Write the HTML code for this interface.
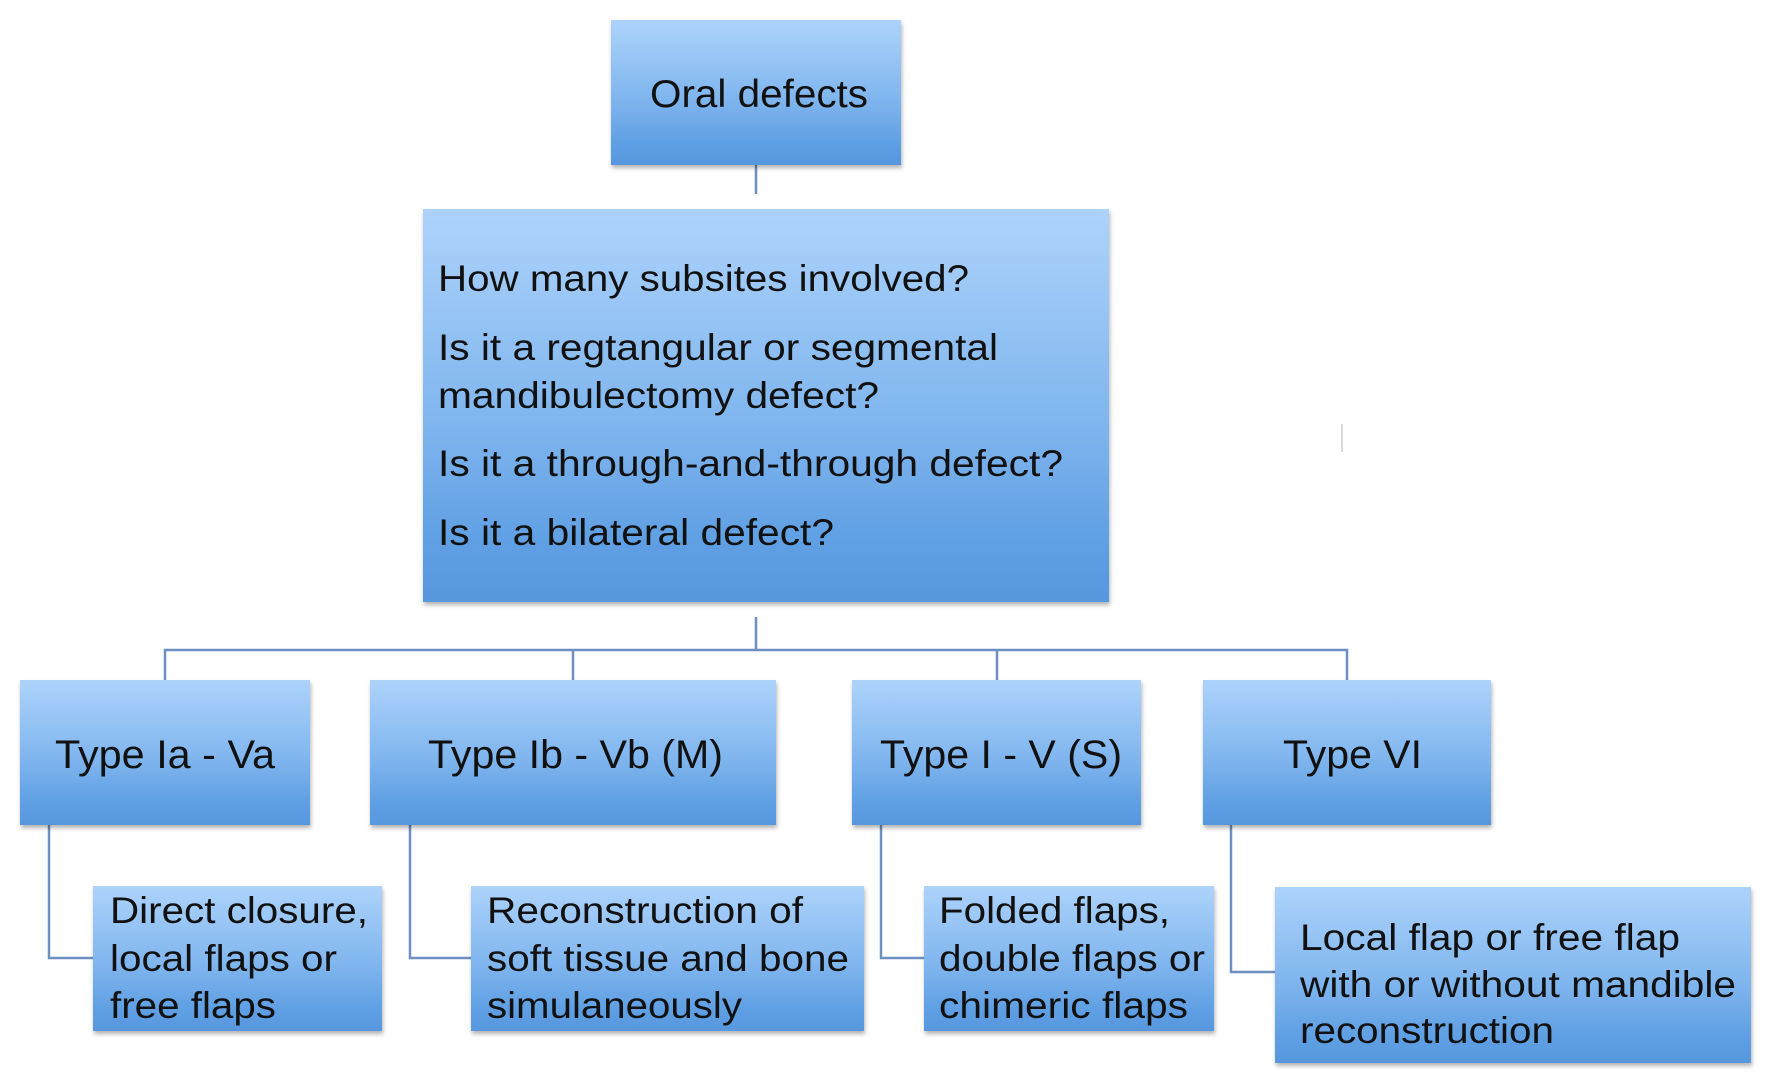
<!DOCTYPE html>
<html><head><meta charset="utf-8"><style>
html,body{margin:0;padding:0;background:#fff;width:1772px;height:1085px;overflow:hidden}
text{font-family:"Liberation Sans",Arial,sans-serif;fill:#111}
</style></head><body>
<svg width="1772" height="1085" viewBox="0 0 1772 1085" xmlns="http://www.w3.org/2000/svg">
<defs>
<linearGradient id="g" x1="0" y1="0" x2="0" y2="1">
<stop offset="0" stop-color="#add3fb"/>
<stop offset="0.55" stop-color="#7fb5ee"/>
<stop offset="0.85" stop-color="#5f9fe3"/>
<stop offset="1" stop-color="#5797de"/>
</linearGradient>
<filter id="sh" x="-5%" y="-5%" width="110%" height="115%">
<feDropShadow dx="1" dy="3" stdDeviation="2" flood-color="#000" flood-opacity="0.3"/>
</filter>
</defs>
<g stroke="#6e8fc2" stroke-width="2.5" fill="none">
<line x1="756" y1="165" x2="756" y2="194"/>
<line x1="756" y1="617" x2="756" y2="650"/>
<polyline points="165,680 165,650 1347,650 1347,680"/>
<line x1="573" y1="650" x2="573" y2="680"/>
<line x1="997" y1="650" x2="997" y2="680"/>
<polyline points="49,825 49,958 93,958"/>
<polyline points="410,825 410,958 471,958"/>
<polyline points="881,825 881,958 924,958"/>
<polyline points="1231,825 1231,972 1275,972"/>
</g>
<line x1="1342" y1="424" x2="1342" y2="452" stroke="#ccc" stroke-width="1.5"/>
<g fill="url(#g)" filter="url(#sh)">
<rect x="611" y="20" width="290" height="145"/>
<rect x="423" y="209" width="686" height="393"/>
<rect x="20" y="680" width="290" height="145"/>
<rect x="370" y="680" width="406" height="145"/>
<rect x="852" y="680" width="289" height="145"/>
<rect x="1203" y="680" width="288" height="145"/>
<rect x="93" y="886" width="289" height="145"/>
<rect x="471" y="886" width="393" height="145"/>
<rect x="924" y="886" width="290" height="145"/>
<rect x="1275" y="887" width="476" height="176"/>
</g>
<g font-size="39">
<text x="650" y="107" textLength="218" lengthAdjust="spacingAndGlyphs">Oral defects</text>
</g>
<g font-size="37">
<text x="438" y="291" textLength="531" lengthAdjust="spacingAndGlyphs">How many subsites involved?</text>
<text x="438" y="360" textLength="560" lengthAdjust="spacingAndGlyphs">Is it a regtangular or segmental</text>
<text x="438" y="408" textLength="441" lengthAdjust="spacingAndGlyphs">mandibulectomy defect?</text>
<text x="438" y="476" textLength="625" lengthAdjust="spacingAndGlyphs">Is it a through-and-through defect?</text>
<text x="438" y="545" textLength="396" lengthAdjust="spacingAndGlyphs">Is it a bilateral defect?</text>
</g>
<g font-size="40">
<text x="55" y="768" textLength="220" lengthAdjust="spacingAndGlyphs">Type Ia - Va</text>
<text x="428" y="768" textLength="295" lengthAdjust="spacingAndGlyphs">Type Ib - Vb (M)</text>
<text x="880" y="768" textLength="242" lengthAdjust="spacingAndGlyphs">Type I - V (S)</text>
<text x="1283" y="768" textLength="139" lengthAdjust="spacingAndGlyphs">Type VI</text>
</g>
<g font-size="37">
<text x="110" y="923" textLength="258" lengthAdjust="spacingAndGlyphs">Direct closure,</text>
<text x="110" y="971" textLength="227" lengthAdjust="spacingAndGlyphs">local flaps or</text>
<text x="110" y="1018" textLength="166" lengthAdjust="spacingAndGlyphs">free flaps</text>
<text x="487" y="923" textLength="316" lengthAdjust="spacingAndGlyphs">Reconstruction of</text>
<text x="487" y="971" textLength="362" lengthAdjust="spacingAndGlyphs">soft tissue and bone</text>
<text x="487" y="1018" textLength="255" lengthAdjust="spacingAndGlyphs">simulaneously</text>
<text x="939" y="923" textLength="231" lengthAdjust="spacingAndGlyphs">Folded flaps,</text>
<text x="939" y="971" textLength="266" lengthAdjust="spacingAndGlyphs">double flaps or</text>
<text x="939" y="1018" textLength="249" lengthAdjust="spacingAndGlyphs">chimeric flaps</text>
<text x="1300" y="950" textLength="380" lengthAdjust="spacingAndGlyphs">Local flap or free flap</text>
<text x="1300" y="997" textLength="436" lengthAdjust="spacingAndGlyphs">with or without mandible</text>
<text x="1300" y="1043" textLength="254" lengthAdjust="spacingAndGlyphs">reconstruction</text>
</g>
</svg>
</body></html>
